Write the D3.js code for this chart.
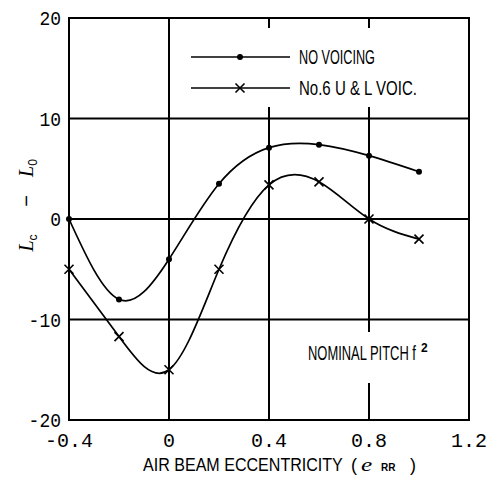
<!DOCTYPE html>
<html>
<head>
<meta charset="utf-8">
<script src="https://cdn.jsdelivr.net/npm/d3@7"></script>
<style>
  html, body { margin: 0; padding: 0; background: #fff; }
  svg { display: block; }
  text { fill: #000; }
</style>
</head>
<body>
<svg id="chart" width="487" height="480"></svg>
<script>
// Eccentricity values (x) shared by both series
const eccentricity = [-0.4, -0.2, 0.0, 0.2, 0.4, 0.6, 0.8, 1.0];
// L_c - L_0 without voicing
const noVoicing = [0.0, -8.0, -4.0, 3.5, 7.1, 7.4, 6.3, 4.7];
// L_c - L_0 with No.6 upper & lower voicing
const no6Voicing = [-5.0, -11.7, -15.0, -5.0, 3.4, 3.7, 0.0, -2.0];

const xTicks = [-0.4, 0, 0.4, 0.8, 1.2];
const xTickLabels = ["-0.4", "0", "0.4", "0.8", "1.2"];
const yTicks = [20, 10, 0, -10, -20];
const xGrid = [0, 0.4, 0.8];
const yGrid = [-10, 0, 10];
const legendLabels = ["NO VOICING", "No.6 U & L VOIC."];

const svg = d3.select("#chart");
const plotLeft = 69, plotRight = 469, plotTop = 18, plotBottom = 420;

const x = d3.scaleLinear().domain([-0.4, 1.2]).range([plotLeft, plotRight]);
const y = d3.scaleLinear().domain([-20, 20]).range([plotBottom, plotTop]);

const ink = "#000";
const labelFont = "'Liberation Sans', Arial, sans-serif";
const tickFont = "'Liberation Mono', 'DejaVu Sans Mono', monospace";

// place a condensed text: squeeze it horizontally to the given width
function fitText(str, px, py, width, size) {
  const t = svg.append("text")
    .attr("font-family", labelFont).attr("font-size", size)
    .text(str);
  const len = t.node().getComputedTextLength();
  t.attr("transform", `translate(${px},${py}) scale(${width / len},1)`);
  return t;
}

// grid lines
const grid = svg.append("g").attr("stroke", ink).attr("stroke-width", 2);
xGrid.forEach(v => grid.append("line")
  .attr("x1", x(v)).attr("x2", x(v)).attr("y1", plotTop).attr("y2", plotBottom));
yGrid.forEach(v => grid.append("line")
  .attr("x1", plotLeft).attr("x2", plotRight).attr("y1", y(v)).attr("y2", y(v)));

// white panels behind the legend and the annotation
svg.append("rect").attr("x", 186).attr("y", 28).attr("width", 280).attr("height", 79)
  .attr("fill", "#fff");
svg.append("rect").attr("x", 300).attr("y", 332).attr("width", 140).attr("height", 51)
  .attr("fill", "#fff");

// frame
svg.append("rect").attr("x", plotLeft).attr("y", plotTop)
  .attr("width", plotRight - plotLeft).attr("height", plotBottom - plotTop)
  .attr("fill", "none").attr("stroke", ink).attr("stroke-width", 2);

// tick labels
svg.append("g").selectAll("text").data(yTicks).join("text")
  .attr("x", 0).attr("y", 0)
  .attr("text-anchor", "end")
  .attr("font-family", tickFont).attr("font-size", 20)
  .attr("transform", d => `translate(61,${y(d) + 7}) scale(0.9,1)`)
  .text(d => d);
svg.append("g").selectAll("text").data(xTicks).join("text")
  .attr("x", d => x(d)).attr("y", 447)
  .attr("text-anchor", "middle")
  .attr("font-family", tickFont).attr("font-size", 20)
  .text((d, i) => xTickLabels[i]);

// curves
const line = d3.line()
  .x(d => x(d[0])).y(d => y(d[1]))
  .curve(d3.curveNatural);

const s1 = eccentricity.map((e, i) => [e, noVoicing[i]]);
const s2 = eccentricity.map((e, i) => [e, no6Voicing[i]]);

svg.append("path").datum(s1).attr("d", line)
  .attr("fill", "none").attr("stroke", ink).attr("stroke-width", 1.7);
svg.append("path").datum(s2).attr("d", line)
  .attr("fill", "none").attr("stroke", ink).attr("stroke-width", 1.7);

// markers
function dot(g, cx, cy) {
  g.append("circle").attr("cx", cx).attr("cy", cy).attr("r", 3).attr("fill", ink);
}
function cross(g, cx, cy) {
  const h = 4.5;
  g.append("path")
    .attr("d", `M${cx - h},${cy - h}L${cx + h},${cy + h}M${cx - h},${cy + h}L${cx + h},${cy - h}`)
    .attr("stroke", ink).attr("stroke-width", 1.6).attr("fill", "none");
}
const m = svg.append("g");
s1.forEach(d => dot(m, x(d[0]), y(d[1])));
s2.forEach(d => cross(m, x(d[0]), y(d[1])));

// legend
const lg = svg.append("g");
[57, 88].forEach((ly, i) => {
  lg.append("line").attr("x1", 191).attr("x2", 290).attr("y1", ly).attr("y2", ly)
    .attr("stroke", ink).attr("stroke-width", 1.6);
  if (i === 0) dot(lg, 240, ly); else cross(lg, 240, ly);
  fitText(legendLabels[i], 299, ly + 7, i === 0 ? 76 : 118, 20);
});

// annotation
fitText("NOMINAL PITCH f", 308, 360, 108, 20);
svg.append("text").attr("x", 421).attr("y", 352)
  .attr("font-family", labelFont).attr("font-size", 12).attr("font-weight", "bold")
  .text("2");

// x-axis title
fitText("AIR BEAM ECCENTRICITY", 143, 471, 200, 18);
svg.append("text").attr("x", 351).attr("y", 471)
  .attr("font-family", labelFont).attr("font-size", 18).text("(");
svg.append("text").attr("x", 0).attr("y", 0)
  .attr("transform", "translate(361,471) scale(1.4,1)")
  .attr("font-family", "'Liberation Serif', serif").attr("font-style", "italic")
  .attr("font-size", 18).text("e");
svg.append("text").attr("x", 381).attr("y", 471)
  .attr("font-family", labelFont).attr("font-size", 10).attr("font-weight", "bold")
  .text("RR");
svg.append("text").attr("x", 410).attr("y", 471)
  .attr("font-family", labelFont).attr("font-size", 18).text(")");

// y-axis title: L_c − L_0, read bottom to top
function rotText(cx, cy) {
  return svg.append("text")
    .attr("transform", `translate(${cx},${cy}) rotate(-90)`)
    .attr("text-anchor", "middle");
}
const lc = rotText(33, 243).attr("font-family", "'Liberation Serif', serif").attr("font-size", 20);
lc.append("tspan").attr("font-style", "italic").text("L");
lc.append("tspan").attr("font-family", labelFont).attr("font-size", 12).attr("dy", 4).text("c");
rotText(33, 201).attr("font-family", labelFont).attr("font-size", 20).text("\u2212");
const l0 = rotText(33, 168).attr("font-family", "'Liberation Serif', serif").attr("font-size", 20);
l0.append("tspan").attr("font-style", "italic").text("L");
l0.append("tspan").attr("font-family", labelFont).attr("font-size", 12).attr("dy", 4).text("0");
</script>
</body>
</html>
